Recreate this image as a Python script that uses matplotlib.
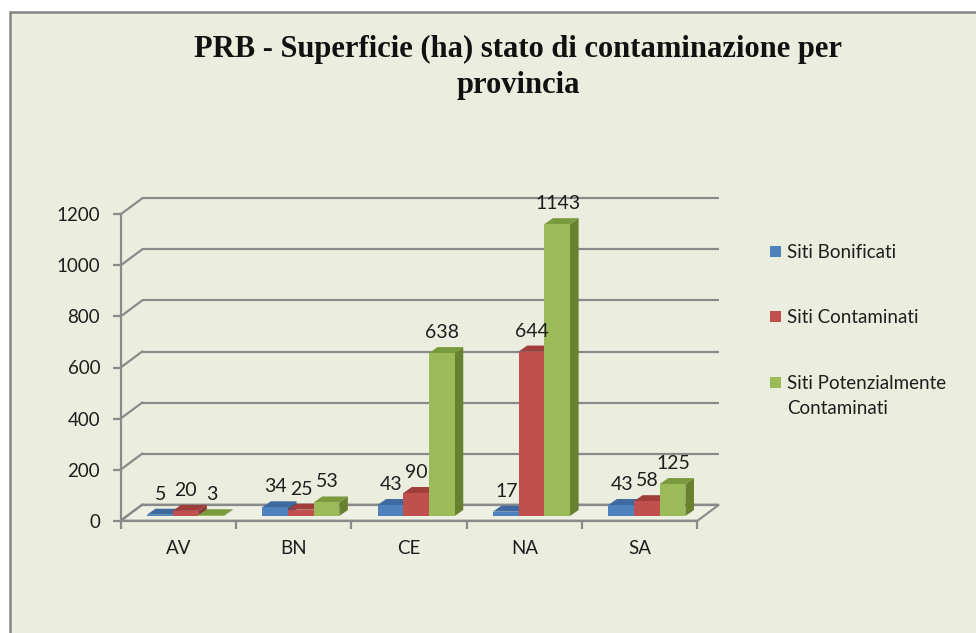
import matplotlib
matplotlib.use("Agg")
import matplotlib.pyplot as plt
from matplotlib.patches import Polygon, Rectangle

# ---------------- data ----------------
categories = ["AV", "BN", "CE", "NA", "SA"]
series_names = ["Siti Bonificati", "Siti Contaminati", "Siti Potenzialmente\nContaminati"]
bonificati = [5, 34, 43, 17, 43]
contaminati = [20, 25, 90, 644, 58]
potenziali = [3, 53, 638, 1143, 125]
y_ticks = [0, 200, 400, 600, 800, 1000, 1200]
title_lines = ["PRB - Superficie (ha) stato di contaminazione per", "provincia"]

series = [bonificati, contaminati, potenziali]
front_colors = ["#4F81BD", "#C0504D", "#9BBB59"]
top_colors = ["#3F6AA0", "#A03E3B", "#7A9A3E"]
side_colors = ["#385D8A", "#8A3634", "#67812F"]

W, H = 976, 633
fig = plt.figure(figsize=(W / 100, H / 100), dpi=100)
fig.patch.set_facecolor("white")
bg = "#EBEEDF"
grid_c = "#8A8A8A"
txt_c = "#1E1E1E"

frame = Rectangle((10 / W, -0.05), 1.2, 1 - 12 / H + 0.05, transform=fig.transFigure,
                  facecolor=bg, edgecolor="#858585", lw=1.8, zorder=0)
fig.add_artist(frame)

# axes placed at the front plane of the 3D box
ax_l, ax_r = 120.7, 697.5
ax_b, ax_t = 520.7, 214.3
ax = fig.add_axes([ax_l / W, (H - ax_b) / H, (ax_r - ax_l) / W, (ax_b - ax_t) / H])
ax.set_facecolor("none")
n = len(categories)
ax.set_xlim(-0.5, n - 0.5)
ax.set_ylim(y_ticks[0], y_ticks[-1])

ppx = (ax_r - ax_l) / n                      # pixels per x unit
ppy = (ax_b - ax_t) / (y_ticks[-1] - y_ticks[0])  # pixels per y unit

# depth offsets (pixels -> data)
dxw, dyw = 21.5 / ppx, 16 / ppy    # back wall
sx, sy = 7.0 / ppx, 4.7 / ppy      # bar front plane
ddx, ddy = 8.6 / ppx, 6.0 / ppy    # bar depth
bw = 25.7 / ppx                    # bar width

x0, x1 = -0.5, n - 0.5
# floor
floor = Polygon([(x0, 0), (x1, 0), (x1 + dxw, dyw), (x0 + dxw, dyw)], closed=True,
                facecolor="#EEF0E4", edgecolor=grid_c, lw=1.5, zorder=1, clip_on=False)
ax.add_patch(floor)
# back wall gridlines and left wall diagonals
for yv in y_ticks:
    ax.plot([x0 + dxw, x1 + dxw], [yv + dyw, yv + dyw], color=grid_c, lw=1.6,
            zorder=1, clip_on=False, solid_capstyle="butt")
    ax.plot([x0, x0 + dxw], [yv, yv + dyw], color=grid_c, lw=1.6, zorder=1,
            clip_on=False)

# bars
for ci in range(n):
    for si, vals in enumerate(series):
        v = vals[ci]
        xc = ci + (si - 1) * bw + sx
        xl, xr = xc - bw / 2, xc + bw / 2
        yb, yt = sy, sy + v
        side = Polygon([(xr, yb), (xr + ddx, yb + ddy), (xr + ddx, yt + ddy), (xr, yt)],
                       closed=True, facecolor=side_colors[si], edgecolor="none",
                       zorder=3, clip_on=False)
        top = Polygon([(xl, yt), (xr, yt), (xr + ddx, yt + ddy), (xl + ddx, yt + ddy)],
                      closed=True, facecolor=top_colors[si], edgecolor="none",
                      zorder=3, clip_on=False)
        ax.add_patch(side)
        ax.add_patch(top)
        ax.bar([xc], [v], width=bw, bottom=yb, color=front_colors[si], zorder=3,
               clip_on=False, linewidth=0)
        ax.annotate(str(v), (xc, yt), xytext=(0.5, 15), textcoords="offset pixels",
                    ha="center", va="baseline", fontsize=14, family="Lato",
                    color=txt_c, zorder=5, annotation_clip=False)

# spines / ticks
for s in ["top", "right"]:
    ax.spines[s].set_visible(False)
for s in ["left", "bottom"]:
    ax.spines[s].set_color(grid_c)
    ax.spines[s].set_linewidth(1.6)
ax.spines["bottom"].set_zorder(2)

ax.set_yticks(y_ticks)
ax.set_yticklabels([str(t) for t in y_ticks], family="Lato", fontsize=13.5, color=txt_c)
ax.tick_params(axis="y", direction="out", length=5.8, width=1.6, color=grid_c, pad=9)

ax.set_xticks([i - 0.5 for i in range(n + 1)])
ax.set_xticklabels([])
ax.set_xticks(list(range(n)), minor=True)
ax.set_xticklabels(categories, minor=True, family="Lato", fontsize=13.5, color=txt_c)
ax.tick_params(axis="x", which="major", direction="out", length=5.8, width=1.6, color=grid_c)
ax.tick_params(axis="x", which="minor", length=0, pad=14)

# title
fig.text(518 / W, 1 - 56.7 / H, title_lines[0], ha="center", va="baseline",
         fontsize=22, fontweight="bold", family="Liberation Serif", color="#111111")
fig.text(518 / W, 1 - 92.7 / H, title_lines[1], ha="center", va="baseline",
         fontsize=22, fontweight="bold", family="Liberation Serif", color="#111111")

# legend (manual)
leg_y = [251.3, 316.3, 382.3]
for si, name in enumerate(series_names):
    yc = leg_y[si]
    fig.add_artist(Rectangle((770 / W, 1 - (yc + 5.4) / H), 10.8 / W, 10.8 / H,
                             transform=fig.transFigure, facecolor=front_colors[si],
                             edgecolor="none"))
    for li, line in enumerate(name.split("\n")):
        fig.text(786.7 / W, 1 - (yc + 6.3 + li * 25) / H, line, ha="left",
                 va="baseline", fontsize=13.5, family="Lato", color=txt_c)

fig.savefig("out.png", dpi=100, facecolor=fig.get_facecolor())
